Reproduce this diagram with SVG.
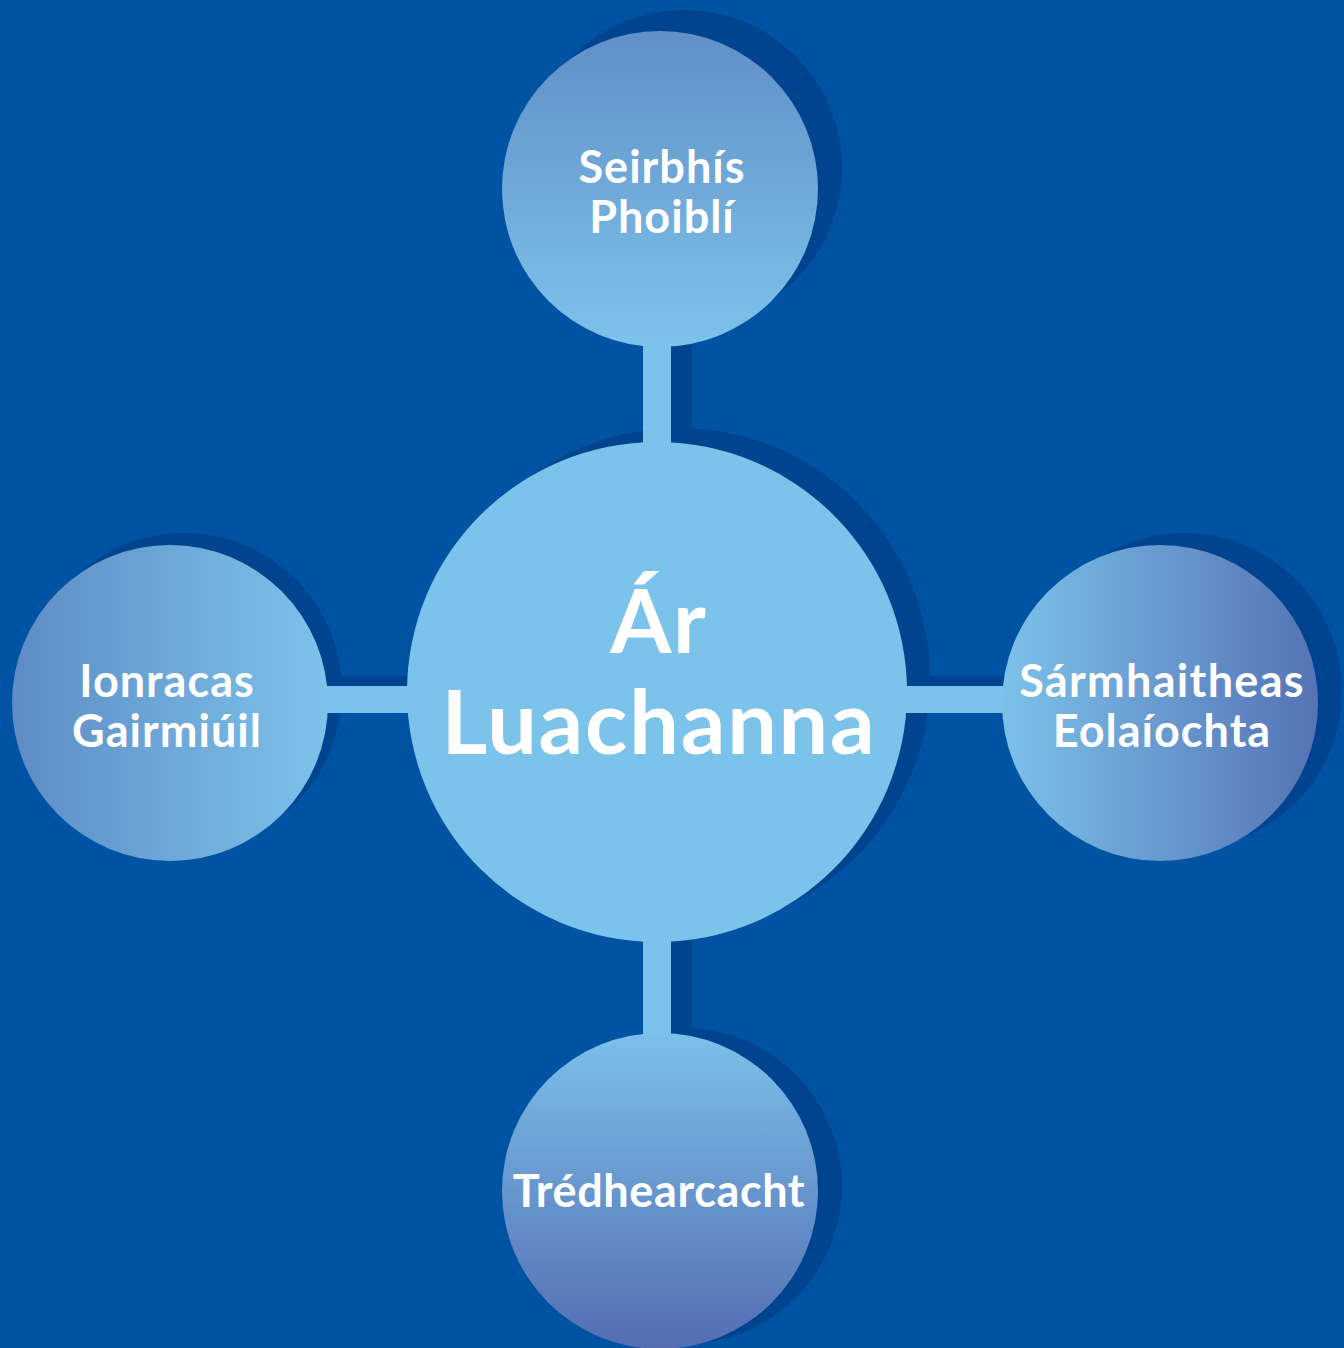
<svg xmlns="http://www.w3.org/2000/svg" width="1344" height="1348" viewBox="0 0 1344 1348">
<defs>
<linearGradient id="gTop" x1="0" y1="0" x2="0" y2="1"><stop offset="0" stop-color="#608fc7"/><stop offset="1" stop-color="#7dc3eb"/></linearGradient>
<linearGradient id="gBot" x1="0" y1="0" x2="0" y2="1"><stop offset="0" stop-color="#7bc0ea"/><stop offset="1" stop-color="#546db3"/></linearGradient>
<linearGradient id="gRight" x1="0" y1="0" x2="1" y2="0"><stop offset="0" stop-color="#7cc1ea"/><stop offset="1" stop-color="#5573b5"/></linearGradient>
<linearGradient id="gLeft" x1="0" y1="0" x2="1" y2="0"><stop offset="0" stop-color="#5e8cc5"/><stop offset="1" stop-color="#7cc3eb"/></linearGradient>
<style>
.sh{fill:#00448f}
.lt{fill:#7cc3eb}
text{font-family:Lato,"Open Sans","Liberation Sans",sans-serif;font-weight:700;fill:#ffffff;text-anchor:middle}
.s{font-size:45px;letter-spacing:1px}
.b{font-size:88px;letter-spacing:1.8px}
</style>
</defs>
<rect width="1344" height="1348" fill="#0052a3"/>
<g id="shadows">
<circle class="sh" cx="684" cy="168" r="158"/>
<circle class="sh" cx="679" cy="679" r="251"/>
<circle class="sh" cx="1184" cy="691" r="158"/>
<circle class="sh" cx="184" cy="691" r="158"/>
<circle class="sh" cx="684" cy="1186" r="158"/>
</g>
<g id="connectors">
<rect class="sh" x="664" y="170" width="28" height="280"/>
<rect class="sh" x="664" y="940" width="28" height="110"/>
<rect class="sh" x="180" y="676" width="240" height="27"/>
<rect class="sh" x="900" y="676" width="290" height="27"/>
<rect class="lt" x="643" y="330" width="28" height="130"/>
<rect class="lt" x="643" y="925" width="28" height="125"/>
<rect class="lt" x="315" y="686" width="105" height="27"/>
<rect class="lt" x="895" y="686" width="120" height="27"/>
</g>
<g id="node-center">
<circle class="lt" cx="657" cy="692" r="250"/>
<text class="b" x="659" y="653">Ár</text>
<text class="b" x="659" y="754">Luachanna</text>
</g>
<g id="node-top">
<circle cx="660" cy="189" r="158" fill="url(#gTop)"/>
<text class="s" x="662" y="183">Seirbhís</text>
<text class="s" x="662" y="233">Phoiblí</text>
</g>
<g id="node-right">
<circle cx="1160" cy="703" r="158" fill="url(#gRight)"/>
<text class="s" x="1162" y="697" style="letter-spacing:1.3px">Sármhaitheas</text>
<text class="s" x="1162" y="747">Eolaíochta</text>
</g>
<g id="node-left">
<circle cx="170" cy="703" r="158" fill="url(#gLeft)"/>
<text class="s" x="167" y="697">Ionracas</text>
<text class="s" x="167" y="747">Gairmiúil</text>
</g>
<g id="node-bottom">
<circle cx="660" cy="1191" r="158" fill="url(#gBot)"/>
<text class="s" x="659" y="1207" style="letter-spacing:0.6px">Trédhearcacht</text>
</g>
</svg>
